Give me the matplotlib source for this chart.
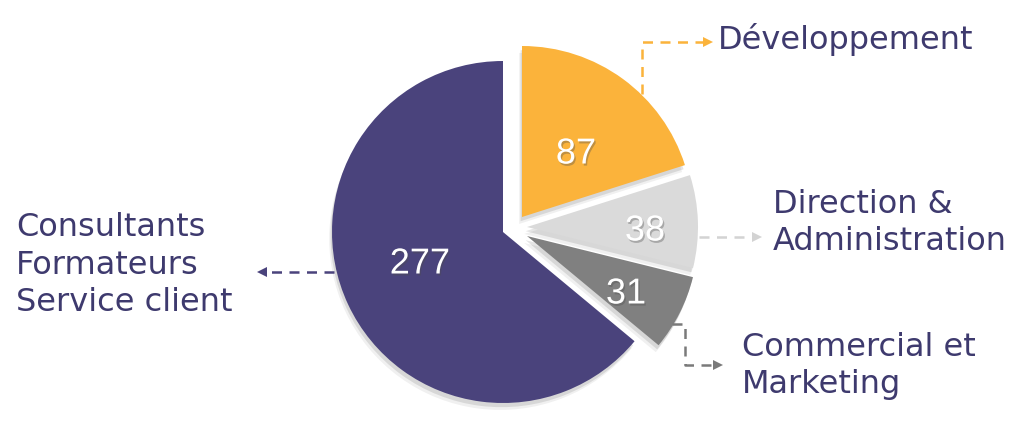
import matplotlib
matplotlib.use('Agg')
import matplotlib.pyplot as plt
import matplotlib.patheffects as pe
import numpy as np

# ---- data ----
categories = ['Développement', 'Direction &\nAdministration',
              'Commercial et\nMarketing', 'Consultants\nFormateurs\nService client']
values = [87, 38, 31, 277]
value_labels = ['87', '38', '31', '277']
colors = ['#FBB33B', '#DADADA', '#808080', '#4A437C']

# ---- layout (pixel space, y measured from top) ----
W, H = 1024, 427
def Y(y):
    return H - y

center = (503, Y(233))
radius = 171
offsets = [(19, 15), (24, 5), (24, -4), (0, 0)]          # explode shifts
label_pos = [(576, 155), (645, 232), (626, 295), (420, 265)]
cat_pos = [(718, 40), (773, 223), (742, 366), (16, 265)]
arrow_paths = [
    [(642, 95), (642, 43), (703, 43)],
    [(699, 238), (752, 238)],
    [(672, 325), (685, 325), (685, 366), (713, 366)],
    [(334, 273), (267, 273)],
]
arrow_colors = ['#FBB33B', '#D3D3D3', '#7A7A7A', '#4A437C']
text_color = '#3E3A6E'

fig = plt.figure(figsize=(W / 100, H / 100), dpi=100)
ax = fig.add_axes([0, 0, 1, 1])

wedges, _ = ax.pie(values, colors=colors, startangle=90, counterclock=False,
                   center=center, radius=radius)
shadow = [pe.SimplePatchShadow(offset=(-1, -3), shadow_rgbFace='black', alpha=0.10),
          pe.SimplePatchShadow(offset=(-2, -5), shadow_rgbFace='black', alpha=0.06),
          pe.Normal()]
for w, (dx, dy) in zip(wedges, offsets):
    w.set_center((center[0] + dx, center[1] + dy))
    w.set_linewidth(0)
    w.set_path_effects(shadow)

for lab, (x, y) in zip(value_labels, label_pos):
    ax.text(x, Y(y), lab, color='white', fontsize=26, ha='center', va='center',
            family='Liberation Sans',
            path_effects=[pe.withSimplePatchShadow(offset=(1, -1.5), alpha=0.35)])

for cat, (x, y) in zip(categories, cat_pos):
    ax.text(x, Y(y), cat, color=text_color, fontsize=23, ha='left', va='center',
            family='DejaVu Sans', linespacing=1.27)

for path, c in zip(arrow_paths, arrow_colors):
    xs = [p[0] for p in path]
    ys = [Y(p[1]) for p in path]
    ax.plot(xs, ys, color=c, lw=1.8, dashes=(4, 3), solid_capstyle='butt')
    dx = xs[-1] - xs[-2]
    marker = '>' if dx > 0 else '<'
    ax.plot(xs[-1] + (5 if dx > 0 else -5), ys[-1], marker=marker, color=c,
            markersize=7, markeredgewidth=0)

ax.set_xlim(0, W)
ax.set_ylim(0, H)
ax.set_aspect('equal')
ax.axis('off')
fig.savefig('out.png', dpi=100)
